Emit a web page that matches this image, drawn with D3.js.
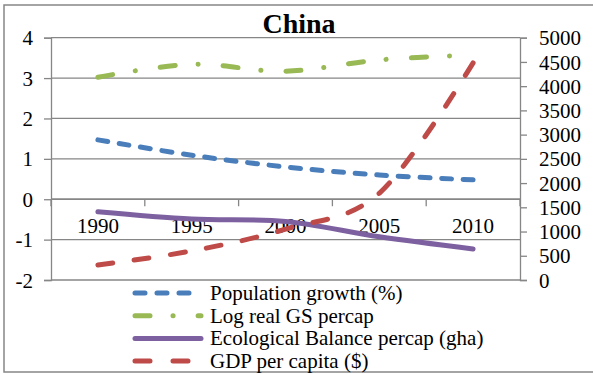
<!DOCTYPE html>
<html>
<head>
<meta charset="utf-8">
<script src="https://cdn.jsdelivr.net/npm/d3@7"></script>
<style>
  html, body { margin: 0; padding: 0; background: #fff; }
  svg, svg text { font-family: "Liberation Serif", "Times New Roman", serif !important; }
  svg { display: block; }
</style>
</head>
<body>
<svg id="chart" width="593" height="374"></svg>
<script>
// Years on the category axis
const years = ["1990", "1995", "2000", "2005", "2010"];
// Left-axis series
const popGrowth = [1.47, 1.09, 0.80, 0.60, 0.48];
const logGS = [3.02, 3.34, 3.17, 3.45, 3.57];
const ecoBalance = [-0.31, -0.49, -0.55, -0.93, -1.23];
// Right-axis series
const gdpPerCapita = [310, 600, 1050, 1790, 4480];
// Axis ticks
const leftTicks = [-2, -1, 0, 1, 2, 3, 4];
const rightTicks = [0, 500, 1000, 1500, 2000, 2500, 3000, 3500, 4000, 4500, 5000];
const seriesNames = ["Population growth (%)", "Log real GS percap", "Ecological Balance percap (gha)", "GDP per capita ($)"];

const svg = d3.select("#chart");
const gray = "#868686";
const fontSize = 21;
const plot = { left: 51, right: 520, top: 37.7, bottom: 280 };

const x = d3.scaleBand().domain(years).range([plot.left, plot.right]);
const yL = d3.scaleLinear().domain([-2, 4]).range([plot.bottom, plot.top]);
const yR = d3.scaleLinear().domain([0, 5000]).range([plot.bottom, plot.top]);

// Chart border
svg.append("rect").attr("x", 4).attr("y", 5).attr("width", 600).attr("height", 367)
  .attr("fill", "none").attr("stroke", gray).attr("stroke-width", 1.5);

// Title
svg.append("text").attr("x", 299).attr("y", 33).attr("text-anchor", "middle")
  .attr("font-size", 28).attr("font-weight", "bold").text("China");

// Horizontal gridlines
svg.append("g").selectAll("line").data(leftTicks).join("line")
  .attr("x1", plot.left).attr("x2", plot.right)
  .attr("y1", d => yL(d)).attr("y2", d => yL(d))
  .attr("stroke", gray).attr("stroke-width", 1.3);

// Left axis
const leftAxis = svg.append("g").attr("transform", `translate(${plot.left},0)`)
  .call(d3.axisLeft(yL).tickValues(leftTicks).tickSize(7).tickPadding(11).tickFormat(d => String(d)));
// Right axis
const rightAxis = svg.append("g").attr("transform", `translate(${plot.right},0)`)
  .call(d3.axisRight(yR).tickValues(rightTicks).tickSize(7).tickPadding(12).tickFormat(d => String(d)));
// Category axis crossing at zero
const boundaries = years.map(d => x(d)).concat([plot.right]);
const xAxis = svg.append("g").attr("transform", `translate(0,${yL(0)})`);
xAxis.append("line").attr("x1", plot.left).attr("x2", plot.right).attr("stroke", gray).attr("stroke-width", 1.3);
xAxis.selectAll("line.tick").data(boundaries).join("line").attr("class", "tick")
  .attr("x1", d => d).attr("x2", d => d).attr("y1", 0).attr("y2", 7)
  .attr("stroke", gray).attr("stroke-width", 1.3);
xAxis.selectAll("text").data(years).join("text")
  .attr("x", d => x(d) + x.bandwidth() / 2).attr("y", 34)
  .attr("text-anchor", "middle").attr("font-size", fontSize).text(d => d);

[leftAxis, rightAxis].forEach(g => {
  g.attr("font-family", null).attr("font-size", null);
  g.selectAll(".domain").attr("stroke", gray).attr("stroke-width", 1.3);
  g.selectAll(".tick line").attr("stroke", gray).attr("stroke-width", 1.3);
  g.selectAll(".tick text").attr("font-size", fontSize).attr("fill", "#000").attr("dy", "0.34em");
});

// Series lines
const cx = (d, i) => x(years[i]) + x.bandwidth() / 2;
const curve = d3.curveCardinal.tension(0);
const styles = [
  { data: popGrowth, scale: yL, color: "#4A7EBB", dash: [10, 12], fit: true },
  { data: logGS, scale: yL, color: "#98B954", dash: [15, 23, 0.1, 25], fit: false },
  { data: ecoBalance, scale: yL, color: "#7D60A0", dash: null, fit: false },
  { data: gdpPerCapita, scale: yR, color: "#BE4B48", dash: [15, 23], fit: true }
];
styles.forEach(s => {
  const line = d3.line().x(cx).y(d => s.scale(d)).curve(curve);
  const path = svg.append("path").datum(s.data).attr("d", line)
    .attr("fill", "none").attr("stroke", s.color).attr("stroke-width", 5)
    .attr("stroke-linecap", "round").attr("stroke-linejoin", "round");
  if (s.dash) {
    let dash = s.dash;
    if (s.fit) {
      // stretch the gap so the line both starts and ends on a dash
      const L = path.node().getTotalLength();
      const period = dash[0] + dash[1];
      const n = Math.max(1, Math.round((L - dash[0]) / period));
      dash = [dash[0], (L - dash[0]) / n - dash[0]];
    }
    path.attr("stroke-dasharray", dash.join(","));
  }
});

// Legend
const legend = svg.append("g");
styles.forEach((s, i) => {
  const yy = 293 + i * 22.7;
  legend.append("line").attr("x1", 135).attr("x2", 201).attr("y1", yy).attr("y2", yy)
    .attr("stroke", s.color).attr("stroke-width", 5).attr("stroke-linecap", "round")
    .attr("stroke-dasharray", s.dash ? s.dash.join(",") : null);
  legend.append("text").attr("x", 210).attr("y", yy + 7).attr("font-size", fontSize).text(seriesNames[i]);
});
</script>
</body>
</html>
